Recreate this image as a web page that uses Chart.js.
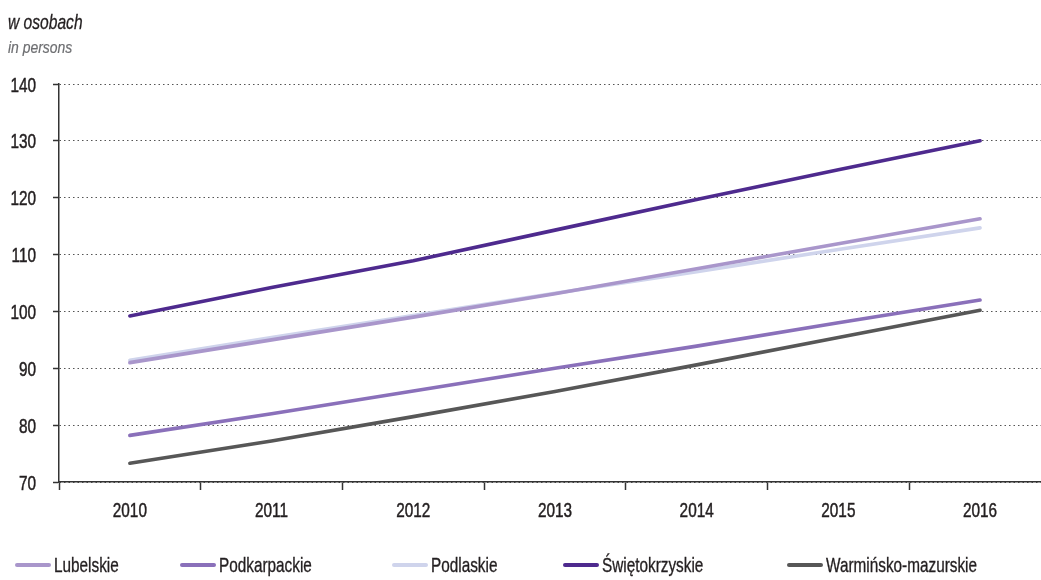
<!DOCTYPE html>
<html>
<head>
<meta charset="utf-8">
<script src="https://cdn.jsdelivr.net/npm/chart.js@4/dist/chart.umd.min.js"></script>
<style>
  html, body { margin: 0; padding: 0; background: #fff; }
  #wrap { position: relative; width: 1041px; height: 580px; overflow: hidden;
          font-family: "Liberation Sans", Arial, sans-serif; }
  #c { position: absolute; left: 0; top: 0; }
  .t1 { position: absolute; left: 8px; top: 12px; font-size: 20px; line-height: 20px; font-style: italic; color: #231f20;
        transform: scaleX(0.78); transform-origin: 0 0; white-space: nowrap; -webkit-text-stroke: 0.3px #231f20; }
  .t2 { position: absolute; left: 8px; top: 39px; font-size: 17px; line-height: 17px; font-style: italic; color: #6d6e71;
        transform: scaleX(0.82); transform-origin: 0 0; white-space: nowrap; -webkit-text-stroke: 0.2px #6d6e71; }
  .leg { position: absolute; top: 553px; height: 24px; display: flex; align-items: center;
         font-size: 21px; color: #231f20; white-space: nowrap; }
  .leg .sw { display: inline-block; width: 36px; height: 4px; border-radius: 2px; margin-right: 3px; flex: none; }
  .leg .tx { display: inline-block; transform: scaleX(0.73); transform-origin: 0 50%; -webkit-text-stroke: 0.35px #231f20; }
</style>
</head>
<body>
<div id="wrap">
  <canvas id="c" width="1041" height="580"></canvas>
  <div class="t1">w osobach</div>
  <div class="t2">in persons</div>
  <div id="legend"></div>
</div>
<script>
const years = ["2010", "2011", "2012", "2013", "2014", "2015", "2016"];
const seriesNames = ["Lubelskie", "Podkarpackie", "Podlaskie", "Świętokrzyskie", "Warmińsko-mazurskie"];
const lubelskie      = [91.0, 95.0, 99.0, 103.1, 107.5, 111.9, 116.3];
const podkarpackie   = [78.2, 82.0, 86.0, 90.0, 93.9, 98.0, 102.0];
const podlaskie      = [91.4, 95.4, 99.3, 103.2, 107.0, 110.9, 114.7];
const swietokrzyskie = [99.2, 104.2, 108.9, 114.3, 119.7, 124.9, 130.0];
const warminsko      = [73.3, 77.2, 81.5, 85.9, 90.6, 95.4, 100.2];
const yTicks = [70, 80, 90, 100, 110, 120, 130, 140];

const seriesValues = [lubelskie, podkarpackie, podlaskie, swietokrzyskie, warminsko];
const colors = ["#a996cb", "#8a70ba", "#cfd4ec", "#4e2a8e", "#575757"];

const datasets = seriesNames.map((name, k) => ({
  label: name,
  data: seriesValues[k].map((v, i) => ({ x: i, y: v })),
  borderColor: colors[k],
  backgroundColor: colors[k],
  borderWidth: 3.6,
  pointRadius: 0,
  tension: 0,
  borderCapStyle: "round",
  borderJoinStyle: "round",
  fill: false
}));

// HTML legend
const legLefts = [15, 180, 392, 563, 787];
const legend = document.getElementById("legend");
seriesNames.forEach((name, k) => {
  const d = document.createElement("div");
  d.className = "leg";
  d.style.left = legLefts[k] + "px";
  const sw = document.createElement("span");
  sw.className = "sw";
  sw.style.background = colors[k];
  const tx = document.createElement("span");
  tx.className = "tx";
  tx.textContent = name;
  d.appendChild(sw);
  d.appendChild(tx);
  legend.appendChild(d);
});

// condensed tick labels drawn at the library's own tick positions
const condensedTicks = {
  id: "condensedTicks",
  afterDraw(chart) {
    const ctx = chart.ctx;
    const xs = chart.scales.x, ys = chart.scales.y;
    ctx.save();
    ctx.fillStyle = "#231f20";
    ctx.strokeStyle = "#231f20";
    ctx.lineWidth = 0.5;
    ctx.font = "21px 'Liberation Sans', Arial, sans-serif";
    ctx.textBaseline = "alphabetic";
    const sx = 0.73;
    const draw = (txt) => { ctx.fillText(txt, 0, 0); ctx.strokeText(txt, 0, 0); };
    ys.ticks.forEach(t => {
      const py = ys.getPixelForValue(t.value);
      ctx.save();
      ctx.translate(ys.right - 23, py + 7.5);
      ctx.scale(sx, 1);
      ctx.textAlign = "right";
      draw(String(t.value));
      ctx.restore();
    });
    xs.ticks.forEach(t => {
      if (!Number.isInteger(t.value)) return;
      const px = xs.getPixelForValue(t.value);
      ctx.save();
      ctx.translate(px, xs.top + 35);
      ctx.scale(sx, 1);
      ctx.textAlign = "center";
      draw(years[t.value]);
      ctx.restore();
    });
    ctx.restore();
  }
};

new Chart(document.getElementById("c"), {
  type: "line",
  data: { datasets },
  plugins: [condensedTicks],
  options: {
    responsive: false,
    animation: false,
    devicePixelRatio: 1,
    layout: { padding: { left: 0, right: 0, top: 84, bottom: 58 } },
    plugins: { legend: { display: false }, tooltip: { enabled: false } },
    scales: {
      x: {
        type: "linear",
        min: -0.5,
        max: 6.43,
        afterFit: s => { s.height = 40; },
        afterBuildTicks: s => {
          const t = [];
          for (let i = 0; i < years.length; i++) { t.push({ value: i - 0.5 }); t.push({ value: i }); }
          s.ticks = t;
        },
        ticks: { display: false, autoSkip: false, maxRotation: 0 },
        grid: {
          drawOnChartArea: false,
          drawTicks: true,
          tickLength: 8,
          tickWidth: 1.5,
          tickColor: ctx => (ctx.tick && Number.isInteger(ctx.tick.value)) ? "rgba(0,0,0,0)" : "#333"
        },
        border: { display: true, color: "#333", width: 1.5 }
      },
      y: {
        min: 70,
        max: 140,
        afterFit: s => { s.width = 59; },
        afterBuildTicks: s => { s.ticks = yTicks.map(v => ({ value: v })); },
        ticks: { display: false },
        grid: {
          color: "#555",
          lineWidth: 1,
          drawTicks: true,
          tickLength: 6,
          tickWidth: 1.5,
          tickColor: "#333",
          tickBorderDash: []
        },
        border: { display: true, color: "#333", width: 1.5, dash: [1.5, 3] }
      }
    }
  }
});
</script>
</body>
</html>
